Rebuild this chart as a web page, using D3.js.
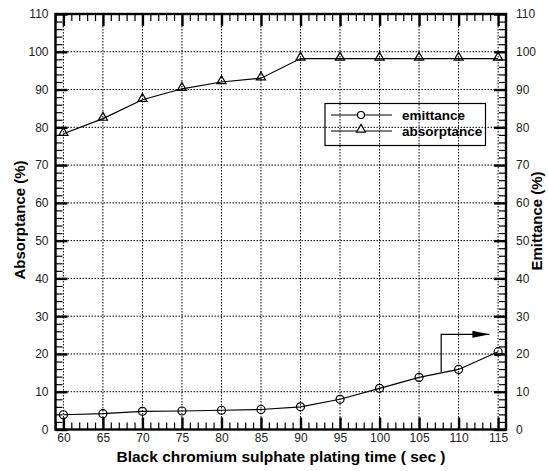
<!DOCTYPE html>
<html><head><meta charset="utf-8">
<script src="https://cdn.jsdelivr.net/npm/d3@7"></script>
<style>body{margin:0;background:#fff}svg{display:block}</style>
</head><body>
<svg id="c" width="548" height="471"></svg>
<script>
const times = [60,65,70,75,80,85,90,95,100,105,110,115];
const absorptance = [78.3,82.3,87.3,90.2,92,93,98.2,98.2,98.2,98.2,98.2,98.2];
const emittance = [3.9,4.2,4.8,4.9,5.1,5.3,6,8,10.9,13.8,15.9,20.6];
const xTicks = [60,65,70,75,80,85,90,95,100,105,110,115];
const yTicks = [0,10,20,30,40,50,60,70,80,90,100,110];
const seriesNames = ["emittance","absorptance"];
const arrowPath = [[107.8,15.2],[107.8,25.2],[113.9,25.2]];

const svg = d3.select("#c");
const x = d3.scaleLinear().domain([59,116]).range([55.5,506]);
const y = d3.scaleLinear().domain([0,110]).range([429.5,14]);
const FONT = "Arial, 'Liberation Sans', sans-serif";

// grid
const g = svg.append("g");
g.selectAll(".vg").data(xTicks).join("line")
  .attr("x1",d=>x(d)).attr("x2",d=>x(d)).attr("y1",y(0)).attr("y2",y(110))
  .attr("stroke","#000").attr("stroke-width",1).attr("stroke-dasharray","1.5,1.5");
g.selectAll(".hg").data(yTicks.filter(d=>d>0&&d<110)).join("line")
  .attr("y1",d=>y(d)).attr("y2",d=>y(d)).attr("x1",x(59)).attr("x2",x(116))
  .attr("stroke","#000").attr("stroke-width",1).attr("stroke-dasharray","1.5,1.5");

// minor ticks (inward)
const xMinor = d3.range(59,117,1).filter(d=>d%5!==0);
const yMinor = d3.range(0,111,2).filter(d=>d%10!==0);
function minor(gen, vals, transform){
  const a = svg.append("g").attr("transform",transform);
  a.call(gen.tickValues(vals).tickSize(-7).tickFormat(""));
  a.selectAll(".domain").remove();
  a.selectAll("line").attr("stroke","#000").attr("stroke-width",1.2);
  return a;
}
minor(d3.axisBottom(x), xMinor, `translate(0,${y(0)})`);
minor(d3.axisTop(x), xMinor, `translate(0,${y(110)})`);
minor(d3.axisLeft(y), yMinor, `translate(${x(59)},0)`);
minor(d3.axisRight(y), yMinor, `translate(${x(116)},0)`);
// major ticks
function major(gen, vals, transform, labels){
  const a = svg.append("g").attr("transform",transform);
  a.call(gen.tickValues(vals).tickSize(-12).tickFormat(labels?d3.format("d"):""));
  a.selectAll(".domain").remove();
  a.selectAll("line").attr("stroke","#000").attr("stroke-width",2.4);
  a.selectAll("text").attr("font-family",FONT).attr("font-size",12).attr("fill","#222");
  return a;
}
const xb = major(d3.axisBottom(x), xTicks, `translate(0,${y(0)})`, true);
xb.selectAll("text").attr("y",4).attr("dy","0.71em");
major(d3.axisTop(x), xTicks, `translate(0,${y(110)})`, false);
const yl = major(d3.axisLeft(y), yTicks, `translate(${x(59)},0)`, true);
yl.selectAll("text").attr("x",-7);
const yr = major(d3.axisRight(y), yTicks, `translate(${x(116)},0)`, true);
yr.selectAll("text").attr("x",10);

// frame
svg.append("rect").attr("x",x(59)).attr("y",y(110)).attr("width",x(116)-x(59)).attr("height",y(0)-y(110))
  .attr("fill","none").attr("stroke","#000").attr("stroke-width",2.4);

// lines
const line = d3.line().x(d=>x(d[0])).y(d=>y(d[1]));
const absData = times.map((t,i)=>[t,absorptance[i]]);
const emData = times.map((t,i)=>[t,emittance[i]]);
svg.append("path").attr("d",line(absData)).attr("fill","none").attr("stroke","#000").attr("stroke-width",1.2);
svg.append("path").attr("d",line(emData)).attr("fill","none").attr("stroke","#000").attr("stroke-width",1.2);
const tri = d3.symbol().type(d3.symbolTriangle).size(36);
svg.selectAll(".tri").data(absData).join("path")
  .attr("d",tri).attr("transform",d=>`translate(${x(d[0])},${y(d[1])-1})`)
  .attr("fill","none").attr("stroke","#000").attr("stroke-width",1.2);
svg.selectAll(".circ").data(emData).join("circle")
  .attr("cx",d=>x(d[0])).attr("cy",d=>y(d[1])).attr("r",4)
  .attr("fill","none").attr("stroke","#000").attr("stroke-width",1.2);

// arrow
svg.append("defs").append("marker").attr("id","ah").attr("viewBox","0 0 17 7")
  .attr("refX",17).attr("refY",3.5).attr("markerWidth",17).attr("markerHeight",7)
  .attr("preserveAspectRatio","none")
  .attr("markerUnits","userSpaceOnUse").attr("orient","auto")
  .append("path").attr("d","M0,0L17,3.5L0,7Z").attr("fill","#000");
svg.append("path").attr("d",d3.line().x(d=>x(d[0])).y(d=>y(d[1]))(arrowPath))
  .attr("fill","none").attr("stroke","#000").attr("stroke-width",1.2).attr("marker-end","url(#ah)");

// legend
const lg = svg.append("g");
lg.append("rect").attr("x",325).attr("y",103.5).attr("width",160.5).attr("height",42)
  .attr("fill","none").attr("stroke","#000").attr("stroke-width",1.2);
const rows = [{name:seriesNames[0],yy:115},{name:seriesNames[1],yy:131}];
rows.forEach((r,i)=>{
  lg.append("line").attr("x1",331).attr("x2",392).attr("y1",r.yy).attr("y2",r.yy).attr("stroke","#000").attr("stroke-width",1.2);
  if(i===0) lg.append("circle").attr("cx",361).attr("cy",r.yy).attr("r",3.5).attr("fill","#fff").attr("stroke","#000").attr("stroke-width",1.2);
  else lg.append("path").attr("d",d3.symbol().type(d3.symbolTriangle).size(34)).attr("transform",`translate(361,${r.yy-1.5})`).attr("fill","#fff").attr("stroke","#000").attr("stroke-width",1.2);
  lg.append("text").attr("x",402).attr("y",r.yy+4.5).text(r.name)
    .attr("font-family",FONT).attr("font-size",13.5).attr("font-weight","bold");
});

// titles
svg.append("text").attr("x",281).attr("y",462).attr("text-anchor","middle")
  .attr("font-family",FONT).attr("font-size",15.5).attr("font-weight","bold")
  .text("Black chromium sulphate plating time ( sec )");
svg.append("text").attr("transform","translate(25,220) rotate(-90)").attr("text-anchor","middle")
  .attr("font-family",FONT).attr("font-size",15).attr("font-weight","bold").text("Absorptance (%)");
svg.append("text").attr("transform","translate(542,221) rotate(-90)").attr("text-anchor","middle")
  .attr("font-family",FONT).attr("font-size",15).attr("font-weight","bold").text("Emittance (%)");
</script>
</body></html>
